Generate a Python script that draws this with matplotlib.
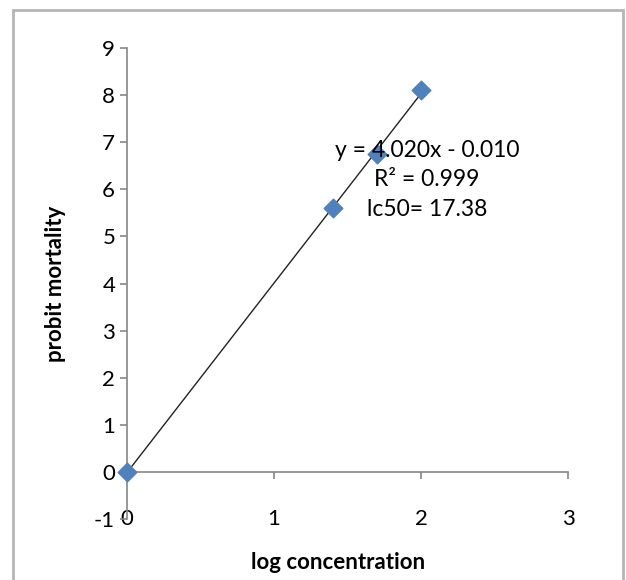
import numpy as np
import matplotlib.pyplot as plt
from matplotlib.patches import Rectangle

log_conc = [0.0, 1.398, 1.699, 2.0]
probit = [0.0, 5.6, 6.75, 8.1]
x_ticks = [0, 1, 2, 3]
y_ticks = list(range(-1, 10))
eq_lines = ["y = 4.020x - 0.010", "R\u00b2 = 0.999", "lc50= 17.38"]

plt.rcParams['font.family'] = ['Lato', 'DejaVu Sans']
plt.rcParams['axes.unicode_minus'] = False
axis_gray = '#868686'

fig = plt.figure(figsize=(6.26, 5.8), dpi=100)
# chart border like the Excel chart area
fig.patches.append(Rectangle((13 / 626, -0.05), 610 / 626, 1.05 - 10 / 580,
                             transform=fig.transFigure, fill=False,
                             edgecolor='#b5b5b5', lw=2))

ax = fig.add_axes([127 / 626, 1 - 519 / 580, 441 / 626, 471 / 580])
ax.set_xlim(0, 3)
ax.set_ylim(-1, 9)

# linear trendline over data range
coef = np.polyfit(log_conc, probit, 1)
xs = np.array([min(log_conc), max(log_conc)])
ax.plot(xs, np.polyval(coef, xs), color='#222222', lw=1, zorder=2)
ax.scatter(log_conc, probit, marker='D', s=90, color='#4F81BD',
           edgecolors='#4F81BD', zorder=3, clip_on=False)

for s in ['top', 'right']:
    ax.spines[s].set_visible(False)
ax.spines['bottom'].set_position(('data', 0))
for s in ['left', 'bottom']:
    ax.spines[s].set_color(axis_gray)
    ax.spines[s].set_linewidth(1.2)

ax.set_xticks(x_ticks)
ax.set_yticks(y_ticks)
ax.tick_params(axis='both', colors=axis_gray, labelcolor='black',
               labelsize=16, length=5, width=1.2)
ax.tick_params(axis='x', pad=22)

ax.set_xlabel('log concentration', fontsize=16, fontweight='bold')
ax.xaxis.set_label_coords(0.478, -0.07)
ax.set_ylabel('probit mortality', fontsize=16, fontweight='bold', labelpad=20)

ax.text(2.04, 6.2, "\n".join(eq_lines), fontsize=16.5, ha='center',
        va='center', linespacing=1.5)

fig.savefig('out.png', dpi=100)
